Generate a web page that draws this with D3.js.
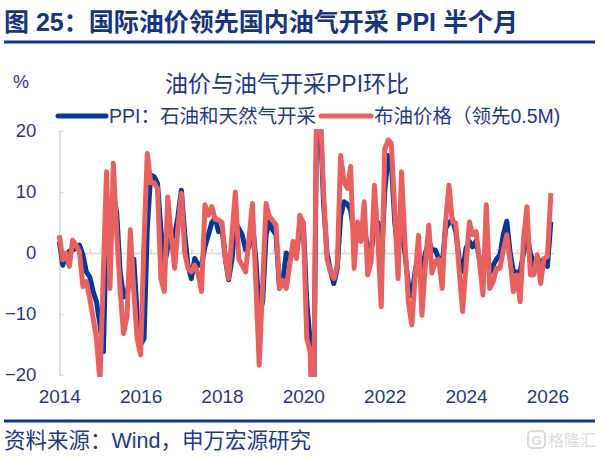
<!DOCTYPE html>
<html><head><meta charset="utf-8">
<script src="https://cdn.jsdelivr.net/npm/d3@7"></script>
<style>body{margin:0;background:#fff}svg{display:block}</style>
</head><body>
<svg id="c" width="601" height="458"></svg>
<script>
// ---- data ----
const months = d3.timeMonths(new Date(2014, 0, 1), new Date(2026, 2, 1)); // Jan 2014 .. Feb 2026
const xTickYears = [2014, 2016, 2018, 2020, 2022, 2024, 2026];
const yTicks = [20, 10, 0, -10, -20];
const seriesNames = ["PPI：石油和天然气开采", "布油价格（领先0.5M)"];
const ppiValues = [
  1.9,-2,-0.5,0.3,0.5,0.8,1.3,-0.3,-3.1,-3.9,-6.3,-8,
  -11.8,-16.2,5,6,10,6.5,-3,-7.2,-7,-3,-1,-10,
  -15,-14,4,12.8,12.5,11.4,4,-2,1,3,2.7,6,
  10.3,3,-2,-4.2,-0.9,-2,-2,1,3,5,5.7,3.5,
  4,-1,-4.4,-1,5,4,3,0.5,1,5,-1,-10,
  -8,3,5.1,3.8,3,-5.8,-4.5,0,-1,0.5,0,4,
  5,-8,-14,-30,25,22,8,0,-3,-5,-2.5,6,
  8.4,8,7,3,2.4,3,4,1,0,5,5,-2,
  10,16,15,5,0,5,0,-5,-7,-3,0,-3,
  0,2,0.5,0.5,-1,-2,4,5,5.4,3.5,-1,-3,
  0.8,1.9,1,2,-1,-3,1,-3.3,-2,-1,-0.3,3,
  5.2,0,-3,-3.1,-3,0,3,0,-2,-1,-1.5,-1,
  -2.2,5.1
];
const brentValues = [
  2.9,-1.1,0,-2.2,2.1,1.3,0.2,-5.5,-4.7,-7.4,-10.7,-14,
  -21,-3,13.3,-5.8,14.7,3,-6,-13.2,-10.4,3.8,-6.3,-14,
  -16.7,2,16.3,11.5,11.5,10.6,-4.2,-6.3,9.2,3,-2.5,4,
  9.8,0,-2.5,-3.1,-2,-3.5,-6.3,7.9,6.2,7.6,5.5,5.4,
  5,-1,-4.2,3,10,-1,-2,-3.1,2.5,8.1,-5,-18.4,
  -5,8.1,6,5.3,4.6,-5.8,-4.5,-5.8,-2,1.9,-0.9,6.2,
  4.9,-14,-16,-30,30,24,10,-1,-3.1,-4.2,-2,16,
  11.7,10.6,14.2,-2.5,5.1,1.9,8.4,-3.6,-1.4,11.1,2,-8.8,
  17,18.5,18,7,-4.2,13.3,2,-8,-11.8,-4,2.9,-10.2,
  -2,4.6,-3.3,-1.4,-1,-5.8,5,11.1,5.1,4.9,-3,-9.6,
  -2,5.1,3,3.5,-1.5,-6.9,7.9,-5.8,-4.7,-2.5,-2.5,0.5,
  3,-1.5,-6.3,-3.6,-8,2.4,7.6,-3.6,-3.6,-0.3,-5,-0.9,
  -0.6,9.8
];

// ---- drawing ----
const FONT = "'Liberation Sans', Arial, 'Noto Sans CJK SC', sans-serif";
const NAVY = "#1d3a8a";
const BLUE = "#06389a";
const RED = "#e8615f";
const GREY = "#d9d9d9";
const svg = d3.select("#c").attr("font-family", FONT);

const x = d3.scaleTime().domain([new Date(2014, 0, 1), new Date(2026, 2, 1)]).range([59.3, 554]);
const y = d3.scaleLinear().domain([-20, 20]).range([375, 131]);

// Title
svg.append("text").attr("x", 4).attr("y", 31)
  .attr("font-size", 25).attr("font-weight", "bold").attr("fill", "#17357f")
  .text("图 25：国际油价领先国内油气开采 PPI 半个月");
svg.append("line").attr("x1", 4).attr("x2", 595).attr("y1", 42).attr("y2", 42)
  .attr("stroke", "#0b358c").attr("stroke-width", 3);

// chart title and unit
svg.append("text").attr("x", 287).attr("y", 92).attr("text-anchor", "middle")
  .attr("font-size", 23).attr("fill", NAVY).text("油价与油气开采PPI环比");
svg.append("text").attr("x", 13).attr("y", 88).attr("font-size", 18).attr("fill", NAVY).text("%");

// legend
const leg = [
  {name: seriesNames[0], color: BLUE, x1: 58, x2: 106},
  {name: seriesNames[1], color: RED, x1: 321, x2: 371}
];
leg.forEach(l => {
  svg.append("line").attr("x1", l.x1).attr("x2", l.x2).attr("y1", 116).attr("y2", 116)
    .attr("stroke", l.color).attr("stroke-width", 5).attr("stroke-linecap", "round");
  svg.append("text").attr("x", l.x2 + 3).attr("y", 123).attr("font-size", 19.5)
    .attr("fill", NAVY).text(l.name);
});

// y axis (line + inward ticks)
const yAx = svg.append("g").attr("transform", "translate(59.3,0)")
  .call(d3.axisRight(y).tickValues(yTicks).tickSize(4).tickSizeOuter(0).tickFormat(""));
yAx.selectAll("path,line").attr("stroke", GREY).attr("stroke-width", 1.5);
// y labels
const yLab = svg.append("g").attr("transform", "translate(59.3,0)")
  .call(d3.axisLeft(y).tickValues(yTicks).tickSize(0).tickPadding(23).tickFormat(d3.format("d")));
yLab.select(".domain").remove();
yLab.selectAll("text").attr("font-size", 18.5).attr("fill", NAVY).attr("font-family", FONT);

// x axis on zero line
const xAx = svg.append("g").attr("transform", `translate(0,${y(0)})`)
  .call(d3.axisTop(x).ticks(d3.timeMonth.every(3)).tickSize(4).tickSizeOuter(0).tickFormat(""));
xAx.selectAll("path,line").attr("stroke", GREY).attr("stroke-width", 1.5);

// x labels
const xLab = svg.append("g").attr("transform", "translate(0,384)")
  .call(d3.axisBottom(x).tickValues(xTickYears.map(yr => new Date(yr, 0, 1)))
    .tickSize(0).tickPadding(6).tickFormat(d3.timeFormat("%Y")));
xLab.select(".domain").remove();
xLab.selectAll("text").attr("font-size", 19).attr("fill", NAVY).attr("font-family", FONT);

// clip
svg.append("clipPath").attr("id", "clip").append("rect")
  .attr("x", 40).attr("y", 129.5).attr("width", 540).attr("height", 247.5);

const line = d3.line().x((d, i) => x(months[i])).y(d => y(d));
const plot = svg.append("g").attr("clip-path", "url(#clip)");
plot.append("path").datum(ppiValues).attr("d", line).attr("fill", "none")
  .attr("stroke", BLUE).attr("stroke-width", 5).attr("stroke-linejoin", "round");
plot.append("path").datum(brentValues).attr("d", line).attr("fill", "none")
  .attr("stroke", RED).attr("stroke-width", 5).attr("stroke-linejoin", "round");

// bottom rule & source
svg.append("line").attr("x1", 4).attr("x2", 595).attr("y1", 421).attr("y2", 421)
  .attr("stroke", "#0b358c").attr("stroke-width", 3);
svg.append("text").attr("x", 4).attr("y", 448).attr("font-size", 21.5).attr("fill", NAVY)
  .text("资料来源：Wind，申万宏源研究");

// watermark
const wm = svg.append("g").attr("opacity", 0.55);
wm.append("rect").attr("x", 528).attr("y", 431).attr("width", 17).attr("height", 17).attr("rx", 4)
  .attr("fill", "none").attr("stroke", "#bdbdbd").attr("stroke-width", 2);
wm.append("text").attr("x", 536.5).attr("y", 445).attr("text-anchor", "middle")
  .attr("font-size", 13).attr("font-weight", "bold").attr("fill", "#bdbdbd").text("G");
wm.append("text").attr("x", 548).attr("y", 446).attr("font-size", 16).attr("fill", "#bdbdbd").text("格隆汇");
</script>
</body></html>
